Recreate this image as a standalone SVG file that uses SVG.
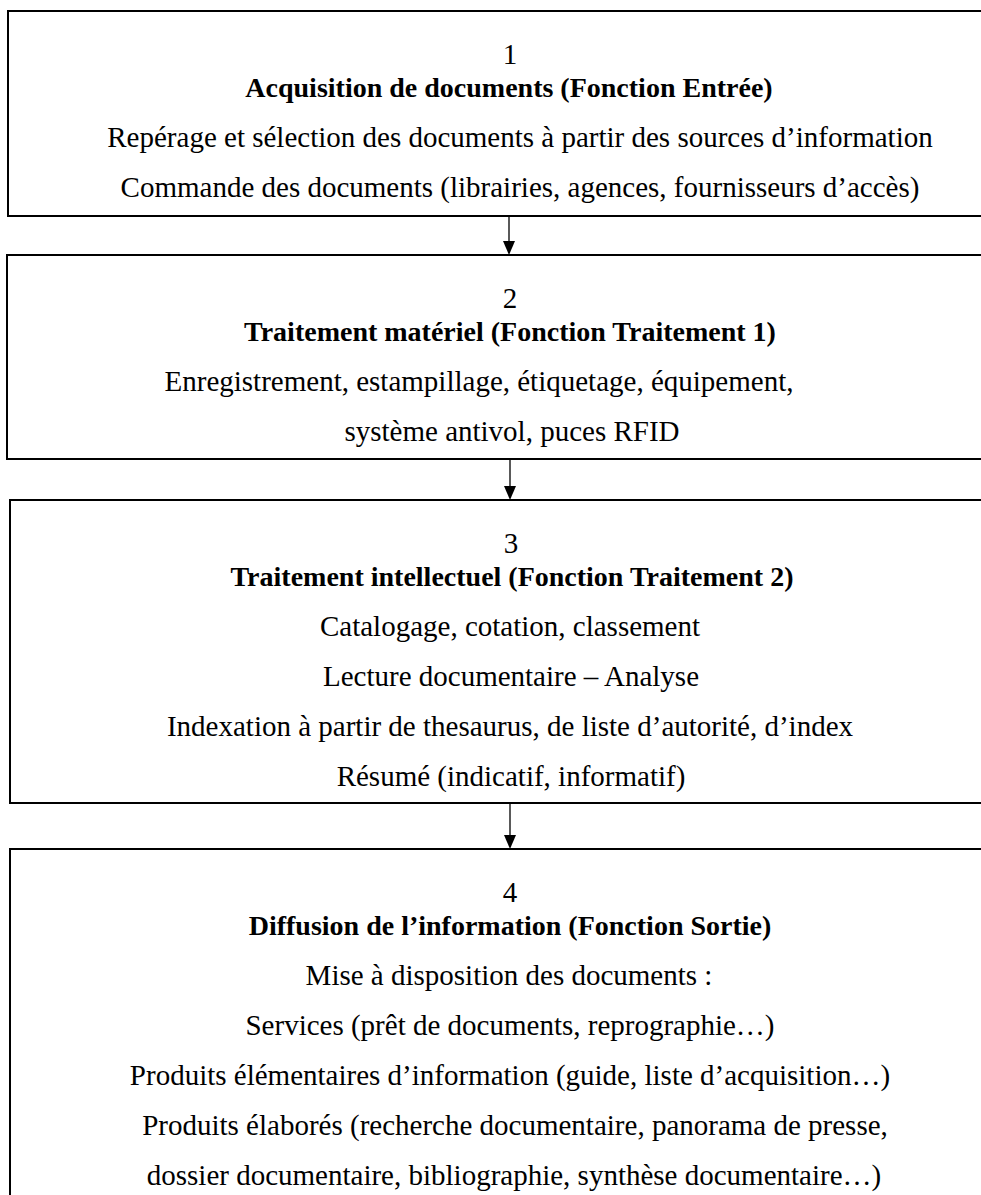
<svg xmlns="http://www.w3.org/2000/svg" width="981" height="1195" viewBox="0 0 981 1195">
<style>
.box{fill:#fff;stroke:#000;stroke-width:2}
.t{font-family:"Liberation Serif","Times New Roman",serif;font-size:29px;fill:#000;text-anchor:middle}
.b{font-weight:bold;font-size:28px}
.c{stroke:#000;stroke-width:1.3;fill:none}
.ah{fill:#000}
</style>
<rect width="981" height="1195" fill="#fff"/>
<g id="connectors">
<line class="c" x1="509" y1="217" x2="509" y2="241"/>
<path class="ah" d="M503,241 L515,241 L509,255 Z"/>
<line class="c" x1="510" y1="460" x2="510" y2="486"/>
<path class="ah" d="M504,486 L516,486 L510,500 Z"/>
<line class="c" x1="510" y1="804" x2="510" y2="835"/>
<path class="ah" d="M504,835 L516,835 L510,849 Z"/>
</g>
<g id="node1">
<rect class="box" x="8" y="11" width="990" height="205"/>
<text class="t" x="510" y="64">1</text>
<text class="t b" x="509" y="97">Acquisition de documents (Fonction Entrée)</text>
<text class="t" x="520" y="147">Repérage et sélection des documents à partir des sources d’information</text>
<text class="t" x="520" y="197">Commande des documents (librairies, agences, fournisseurs d’accès)</text>
</g>
<g id="node2">
<rect class="box" x="7" y="255" width="990" height="204"/>
<text class="t" x="510" y="308">2</text>
<text class="t b" x="510" y="341">Traitement matériel (Fonction Traitement 1)</text>
<text class="t" x="479" y="391">Enregistrement, estampillage, étiquetage, équipement,</text>
<text class="t" x="512" y="441">système antivol, puces RFID</text>
</g>
<g id="node3">
<rect class="box" x="10" y="500" width="990" height="303"/>
<text class="t" x="511" y="553">3</text>
<text class="t b" x="512" y="586">Traitement intellectuel (Fonction Traitement 2)</text>
<text class="t" x="510" y="636">Catalogage, cotation, classement</text>
<text class="t" x="511" y="686">Lecture documentaire – Analyse</text>
<text class="t" x="510" y="736">Indexation à partir de thesaurus, de liste d’autorité, d’index</text>
<text class="t" x="511" y="786">Résumé (indicatif, informatif)</text>
</g>
<g id="node4">
<rect class="box" x="10" y="849" width="990" height="360"/>
<text class="t" x="510" y="902">4</text>
<text class="t b" x="510" y="935">Diffusion de l’information (Fonction Sortie)</text>
<text class="t" x="509" y="985">Mise à disposition des documents :</text>
<text class="t" x="510" y="1035">Services (prêt de documents, reprographie…)</text>
<text class="t" x="510" y="1085">Produits élémentaires d’information (guide, liste d’acquisition…)</text>
<text class="t" x="515" y="1135">Produits élaborés (recherche documentaire, panorama de presse,</text>
<text class="t" x="514" y="1185">dossier documentaire, bibliographie, synthèse documentaire…)</text>
</g>
</svg>
